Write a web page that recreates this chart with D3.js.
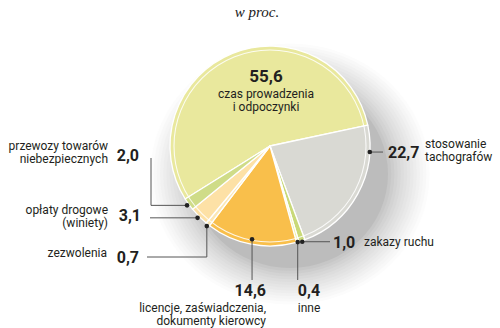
<!DOCTYPE html>
<html><head><meta charset="utf-8">
<script src="https://cdn.jsdelivr.net/npm/d3@7"></script>
<style>
html,body{margin:0;padding:0;background:#fff;}
svg{display:block;}
</style></head>
<body>
<svg id="c" width="500" height="328"></svg>
<script>
// ---- data ----
const categories = ["czas prowadzenia i odpoczynki","stosowanie tachografów","zakazy ruchu","inne",
  "licencje, zaświadczenia, dokumenty kierowcy","zezwolenia","opłaty drogowe (winiety)","przewozy towarów niebezpiecznych"];
const values = [55.6, 22.7, 1.0, 0.4, 14.6, 0.7, 3.1, 2.0];
const valueLabels = ["55,6","22,7","1,0","0,4","14,6","0,7","3,1","2,0"];
const colors = ["#e9e89d","#d9d9d3","#c9d978","#eef0a0","#f9bf4b","#fbe7b4","#fde1a6","#cfdc88"];
const title = "w proc.";

// ---- layout ----
const W = 500, H = 328;
const cx = 270, cy = 146, R = 100;
const startDeg = -122;
const svg = d3.select("#c");

svg.append("text").attr("x", 257).attr("y", 17).attr("text-anchor","middle")
  .attr("font-family","'Liberation Serif', serif").attr("font-style","italic")
  .attr("font-size", 15).attr("fill","#222").text(title);

// soft shadow: solid-colour ellipses, outermost (lightest) first
const shadowG = svg.append("g").attr("transform", `translate(${cx + 20},${cy + 28})`);
const shadowSteps = d3.range(14, -1, -1);
const shadeCol = d3.interpolateRgb("#bcbcbc", "#ffffff");
shadowSteps.forEach(k => {
  shadowG.append("ellipse")
    .attr("cx", 0).attr("cy", 0)
    .attr("rx", R - 2 + k * 3.2).attr("ry", R - 6 + k * 2.8)
    .style("fill", shadeCol(Math.pow(k / 14, 0.7)));
});

const g = svg.append("g").attr("transform", `translate(${cx},${cy})`);
const rad = d => d*Math.PI/180;
const pie = d3.pie().sort(null).value(d => d).startAngle(rad(startDeg)).endAngle(rad(startDeg+360));
const arcs = pie(values);
const arc = d3.arc().innerRadius(0).outerRadius(R);
g.selectAll("path.s").data(arcs).join("path").attr("class","s")
  .attr("d", arc).attr("fill",(d,i)=>colors[i])
  .attr("stroke","#fff").attr("stroke-width",1.3).attr("stroke-linejoin","round");
// inner highlight ring
g.append("circle").attr("r", R-4).attr("fill","none").attr("stroke","#fff").attr("stroke-width",1.1).attr("opacity",0.85);

// ---- labels ----
const font = "Roboto, 'Noto Sans', sans-serif";
const ink = "#231f20";
const lineC = "#555";
const fs = 12;
// label config: t = position of dot within slice, dr = radius of dot
const lab = [
  {i:0, num:[266,82,"middle"], txt:[[266,98,"czas prowadzenia"],[266,111,"i odpoczynki"]], anchor:"middle"},
  {i:1, t:0.19, dr:100, path:d=>[[d[0],d[1]],[383,d[1]]], num:[388,158,"start"], txt:[[425,148,"stosowanie"],[425,161,"tachografów"]], anchor:"start"},
  {i:2, t:0.5, dr:101, path:d=>[[d[0],d[1]],[330,d[1]]], num:[333,248,"start"], txt:[[364,246,"zakazy ruchu"]], anchor:"start"},
  {i:3, t:0.5, dr:100, path:d=>[[d[0],d[1]],[d[0],280]], num:[309,296,"middle"], txt:[[309,312,"inne"]], anchor:"middle"},
  {i:4, t:0.5, dr:95, path:d=>[[d[0],d[1]],[d[0],280]], num:[266,296,"end"], txt:[[266,312,"licencje, zaświadczenia,"],[266,325,"dokumenty kierowcy"]], anchor:"end"},
  {i:5, t:0.45, dr:102, path:d=>[[d[0],d[1]],[d[0],257],[147,257]], num:[139,263,"end"], txt:[[107,257,"zezwolenia"]], anchor:"end"},
  {i:6, t:0.5, dr:102, path:d=>[[d[0],d[1]],[150,d[1]]], num:[141,221,"end"], txt:[[108,214,"opłaty drogowe"],[108,227,"(winiety)"]], anchor:"end"},
  {i:7, t:0.5, dr:102, path:d=>[[d[0],d[1]],[151,d[1]],[151,158]], num:[139,161,"end"], txt:[[108,150,"przewozy towarów"],[108,163,"niebezpiecznych"]], anchor:"end"}
];

const L = svg.append("g");
lab.forEach(l => {
  const a = arcs[l.i];
  if (l.t !== undefined) {
    const ang = a.startAngle + (a.endAngle - a.startAngle)*l.t;
    const p = [cx + l.dr*Math.sin(ang), cy - l.dr*Math.cos(ang)];
    L.append("path").attr("d", d3.line()(l.path(p))).attr("fill","none")
      .attr("stroke", lineC).attr("stroke-width",1);
    L.append("circle").attr("cx",p[0]).attr("cy",p[1]).attr("r",2.3).attr("fill","#222");
  }
  L.append("text").attr("x",l.num[0]).attr("y",l.num[1]).attr("text-anchor",l.num[2])
    .attr("font-family",font).attr("font-weight",700).attr("font-size", l.i===0?17:16)
    .attr("fill",ink).text(valueLabels[l.i]);
  l.txt.forEach(t => {
    L.append("text").attr("x",t[0]).attr("y",t[1]).attr("text-anchor",l.anchor)
      .attr("font-family",font).attr("font-size", fs).attr("fill",ink).text(t[2]);
  });
});
</script>
</body></html>
